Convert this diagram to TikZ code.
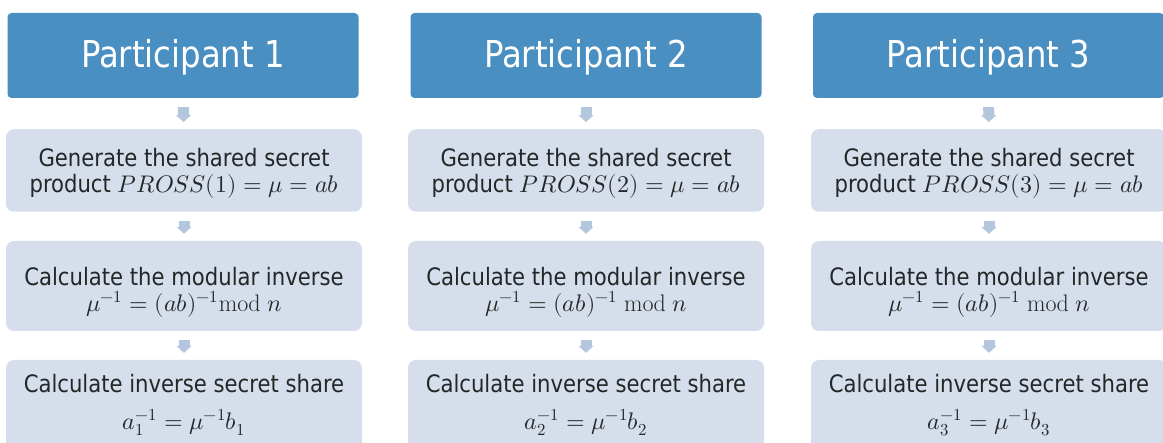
\documentclass[tikz,border=0pt]{standalone}
\usepackage{fontspec}
\usepackage{unicode-math}
\usetikzlibrary{arrows.meta}
\newfontfamily\headfont[FakeStretch=0.97]{DejaVu Sans Condensed}
\newfontfamily\bodyfont[FakeStretch=0.98]{DejaVu Sans Condensed}
\definecolor{headblue}{RGB}{74,143,194}
\definecolor{stepfill}{RGB}{213,222,234}
\definecolor{flowarrow}{RGB}{180,198,222}
\definecolor{inktext}{RGB}{34,40,40}
\tikzset{
  head/.style={fill=headblue, rounded corners=4pt, minimum width=351pt,
    minimum height=85pt, inner sep=0pt, text=white,
    text height=25pt, text depth=0pt,
    font=\headfont\fontsize{37}{40}\selectfont},
  stepbox/.style={fill=stepfill, rounded corners=8pt, minimum width=356pt,
    inner sep=0pt},
  steptext/.style={inner sep=0pt, text=inktext, align=center,
    font=\bodyfont\fontsize{24}{26}\selectfont},
  flow/.style={draw=flowarrow, line width=11pt,
    -{Triangle[width=15pt,length=7pt]}, shorten <=9pt, shorten >=7pt}
}
\begin{document}
\begin{tikzpicture}[x=1pt, y=-1pt]
  \useasboundingbox (0,0) rectangle (1163,443);
  \clip (0,0) rectangle (1163,443);

  % column headers
  \node[head] (h1) at (183,55.5) {Participant 1};
  \node[head] (h2) at (586,55.5) {Participant 2};
  \node[head] (h3) at (988.5,55.5) {Participant 3};

  % step boxes
  \foreach \i/\x in {1/184, 2/586, 3/989} {
    \node[stepbox, minimum height=82.5pt] (a\i) at (\x,170.5) {};
    \node[stepbox, minimum height=90pt]   (b\i) at (\x,286) {};
    \node[stepbox, minimum height=90pt]   (c\i) at (\x,405) {};
  }

  % step 1: shared secret product
  \node[steptext] (a1t) at ([yshift=-3pt]a1.center)
    {Generate the shared secret\\product $PROSS(1)=\mu=ab$};
  \node[steptext] (a2t) at ([yshift=-3pt]a2.center)
    {Generate the shared secret\\product $PROSS(2)=\mu=ab$};
  \node[steptext] (a3t) at ([yshift=-3pt]a3.center)
    {Generate the shared secret\\product $PROSS(3)=\mu=ab$};

  % step 2: modular inverse
  \node[steptext] (b1t) at ([yshift=-6pt]b1.center)
    {Calculate the modular inverse\\$\mu^{-1}=(ab)^{-1}\mathrm{mod}\;n$};
  \node[steptext] (b2t) at ([yshift=-6pt]b2.center)
    {Calculate the modular inverse\\$\mu^{-1}=(ab)^{-1}\;\mathrm{mod}\;n$};
  \node[steptext] (b3t) at ([yshift=-6pt]b3.center)
    {Calculate the modular inverse\\$\mu^{-1}=(ab)^{-1}\;\mathrm{mod}\;n$};

  % step 3: inverse secret share
  \node[steptext] (c1t) at (c1.center)
    {Calculate inverse secret share\\[11pt]$a_1^{-1}=\mu^{-1}b_1$};
  \node[steptext] (c2t) at (c2.center)
    {Calculate inverse secret share\\[11pt]$a_2^{-1}=\mu^{-1}b_2$};
  \node[steptext] (c3t) at (c3.center)
    {Calculate inverse secret share\\[11pt]$a_3^{-1}=\mu^{-1}b_3$};

  % flow arrows
  \foreach \i in {1,2,3} {
    \draw[flow] (h\i) -- (a\i);
    \draw[flow] (a\i) -- (b\i);
    \draw[flow] (b\i) -- (c\i);
  }
\end{tikzpicture}
\end{document}
